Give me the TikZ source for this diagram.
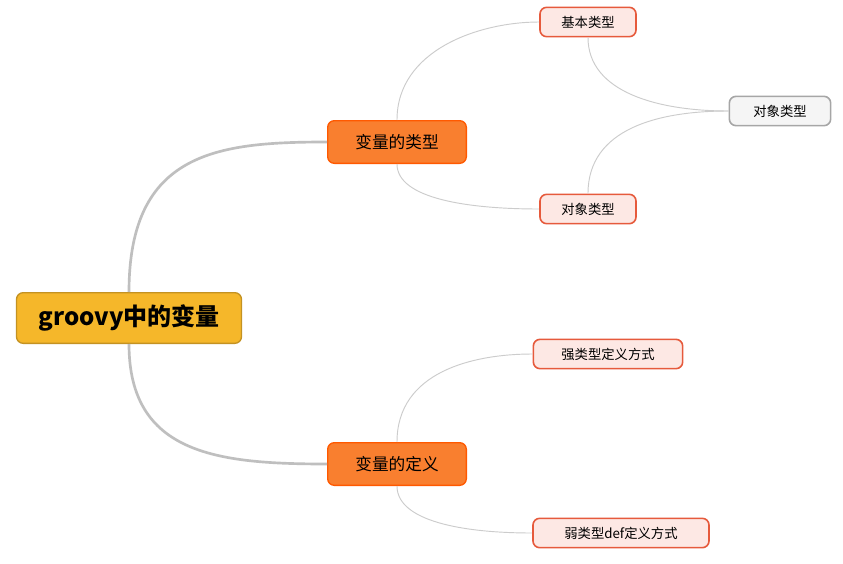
\documentclass[tikz,border=0pt]{standalone}
\usepackage{fontspec}
\setmainfont{Noto Sans CJK SC}
\begin{document}
\begin{tikzpicture}[x=0.75pt,y=-0.75pt]
\useasboundingbox[fill=white] (0,0) rectangle (843,564);
\tikzset{
 rootbox/.style={draw=#1!80!black,line width=1pt,rounded corners=5pt,fill=#1,minimum width=168.75pt,minimum height=38pt,font=\fontsize{18}{21}\selectfont\bfseries},
 midbox/.style={draw=orange!70!red,line width=1pt,rounded corners=5pt,fill={rgb,255:red,249;green,127;blue,47},minimum width=104pt,minimum height=32pt,font=\fontsize{12.5}{14}\selectfont},
 leafbox/.style={draw={rgb,255:red,230;green,90;blue,60},line width=1.2pt,rounded corners=5pt,fill={rgb,255:red,253;green,232;blue,228},minimum height=22pt,font=\fontsize{10}{12}\selectfont},
 graybox/.style={draw=gray!70,line width=1.2pt,rounded corners=5pt,fill=gray!8,minimum height=22pt,font=\fontsize{10}{12}\selectfont},
 thick link/.style={draw=gray!50,line width=2pt},
 thin link/.style={draw=gray!40,line width=0.7pt}
}
\definecolor{gold}{RGB}{245,183,42}
\node[rootbox=gold] (root) at (129,318) {groovy中的变量};
\node[midbox] (t) at (397,142) {变量的类型};
\node[midbox] (d) at (397,464) {变量的定义};
\node[leafbox,minimum width=72pt] (b) at (588,22) {基本类型};
\node[leafbox,minimum width=72pt] (o) at (588,209) {对象类型};
\node[graybox,minimum width=76pt] (g) at (780,111) {对象类型};
\node[leafbox,minimum width=112pt] (s) at (608,354) {强类型定义方式};
\node[leafbox,minimum width=132pt] (w) at (621,533) {弱类型def定义方式};
\path[thick link] (root.north) .. controls +(0,-140) and +(-110,0) .. (t.west);
\path[thick link] (root.south) .. controls +(0,110) and +(-110,0) .. (d.west);
\path[thin link] (t.north) .. controls +(0,-70) and +(-60,0) .. (b.west);
\path[thin link] (t.south) .. controls +(0,35) and +(-70,0) .. (o.west);
\path[thin link] (b.south) .. controls +(0,55) and +(-70,0) .. (g.west);
\path[thin link] (o.north) .. controls +(0,-65) and +(-70,0) .. (g.west);
\path[thin link] (d.north) .. controls +(0,-70) and +(-60,0) .. (s.west);
\path[thin link] (d.south) .. controls +(0,35) and +(-70,0) .. (w.west);
\end{tikzpicture}
\end{document}
